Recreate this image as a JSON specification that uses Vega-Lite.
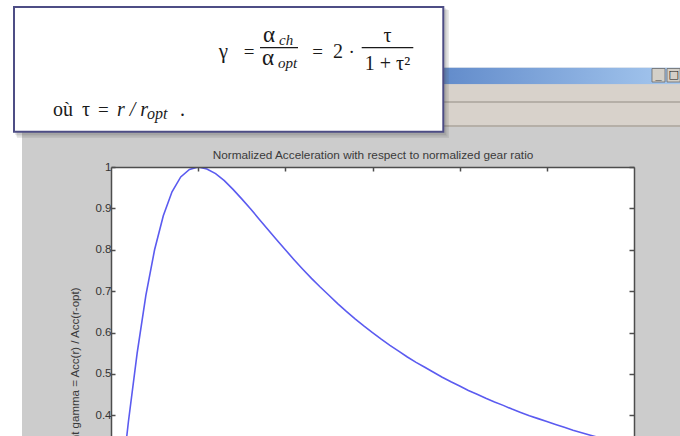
{
  "$schema": "https://vega.github.io/schema/vega-lite/v6.json",
  "width": 523,
  "height": 269,
  "autosize": {"type": "none"},
  "padding": {"left": 111, "top": 167, "right": 46, "bottom": 0},
  "background": "#cccccc",
  "config": {
    "view": {"stroke": null, "fill": "white"},
    "font": "Liberation Sans"
  },
  "resolve": {"axis": {"x": "independent", "y": "independent"}},
  "layer": [
    {
      "data": {"values": [{}]},
      "mark": {"type": "rect", "color": "white"},
      "encoding": {
        "x": {"datum": -1.3, "type": "quantitative", "axis": null, "scale": {"domain": [0, 6], "nice": false}},
        "x2": {"datum": 6.6},
        "y": {"datum": 1.42, "type": "quantitative", "axis": null, "scale": {"domain": [0.35, 1], "nice": false, "zero": false}},
        "y2": {"datum": 1.23994}
      }
    },
    {
      "data": {"values": [{}]},
      "mark": {"type": "rect", "color": "white"},
      "encoding": {
        "x": {"datum": -1.3, "type": "quantitative", "axis": null},
        "x2": {"datum": -1.021},
        "y": {"datum": 1.42, "type": "quantitative", "axis": null},
        "y2": {"datum": 0.3}
      }
    },
    {
      "data": {"values": [{}]},
      "mark": {
        "type": "rect",
        "color": {"gradient": "linear", "stops": [{"offset": 0, "color": "#0a246a"}, {"offset": 0.45, "color": "#3f6cb8"}, {"offset": 1, "color": "#a8caf0"}]}
      },
      "encoding": {
        "x": {"datum": -1.021, "type": "quantitative", "axis": null},
        "x2": {"datum": 6.6},
        "y": {"datum": 1.23994, "type": "quantitative", "axis": null},
        "y2": {"datum": 1.19983}
      }
    },
    {
      "data": {"values": [{}]},
      "mark": {"type": "rect", "color": "#d8d2cb"},
      "encoding": {
        "x": {"datum": -1.021, "type": "quantitative", "axis": null},
        "x2": {"datum": 6.6},
        "y": {"datum": 1.19983, "type": "quantitative", "axis": null},
        "y2": {"datum": 1.09665}
      }
    },
    {
      "data": {"values": [{}]},
      "mark": {"type": "rule", "color": "#aaa39b", "strokeWidth": 1.5},
      "encoding": {
        "x": {"datum": -1.021, "type": "quantitative", "axis": null},
        "x2": {"datum": 6.6},
        "y": {"datum": 1.15706, "type": "quantitative", "axis": null}
      }
    },
    {
      "data": {"values": [{}]},
      "mark": {"type": "rule", "color": "#aaa39b", "strokeWidth": 1.5},
      "encoding": {
        "x": {"datum": -1.021, "type": "quantitative", "axis": null},
        "x2": {"datum": 6.6},
        "y": {"datum": 1.09907, "type": "quantitative", "axis": null}
      }
    },
    {
      "data": {"values": [{}]},
      "mark": {"type": "rect", "color": "#d4d0c8", "stroke": "#6a6a6a", "strokeWidth": 0.8},
      "encoding": {
        "x": {"datum": 6.2065, "type": "quantitative", "axis": null},
        "x2": {"datum": 6.3557},
        "y": {"datum": 1.23801, "type": "quantitative", "axis": null},
        "y2": {"datum": 1.20539}
      }
    },
    {
      "data": {"values": [{}]},
      "mark": {"type": "rect", "color": "#d4d0c8", "stroke": "#6a6a6a", "strokeWidth": 0.8},
      "encoding": {
        "x": {"datum": 6.3786, "type": "quantitative", "axis": null},
        "x2": {"datum": 6.53},
        "y": {"datum": 1.23801, "type": "quantitative", "axis": null},
        "y2": {"datum": 1.20539}
      }
    },
    {
      "data": {"values": [{"glyph": "_"}]},
      "mark": {"type": "text", "fontSize": 11, "fontWeight": "bold", "color": "#111", "align": "center", "baseline": "alphabetic"},
      "encoding": {
        "text": {"field": "glyph"},
        "x": {"datum": 6.281, "type": "quantitative", "axis": null},
        "y": {"datum": 1.2115, "type": "quantitative", "axis": null}
      }
    },
    {
      "data": {"values": [{"glyph": "□"}]},
      "mark": {"type": "text", "fontSize": 11, "color": "#111", "align": "center", "baseline": "middle", "font": "DejaVu Sans"},
      "encoding": {
        "text": {"field": "glyph"},
        "x": {"datum": 6.455, "type": "quantitative", "axis": null},
        "y": {"datum": 1.2217, "type": "quantitative", "axis": null}
      }
    },
    {
      "data": {"values": [{}]},
      "mark": {"type": "rect", "color": "#555", "opacity": 0.12},
      "encoding": {
        "x": {"datum": -1.10134, "type": "quantitative", "axis": null},
        "x2": {"datum": 3.84321},
        "y": {"datum": 1.3842, "type": "quantitative", "axis": null},
        "y2": {"datum": 1.07732}
      }
    },
    {
      "data": {"values": [{}]},
      "mark": {"type": "rect", "color": "#555", "opacity": 0.12},
      "encoding": {
        "x": {"datum": -1.08987, "type": "quantitative", "axis": null},
        "x2": {"datum": 3.86042},
        "y": {"datum": 1.38178, "type": "quantitative", "axis": null},
        "y2": {"datum": 1.0737}
      }
    },
    {
      "data": {"values": [{}]},
      "mark": {"type": "rect", "color": "#555", "opacity": 0.12},
      "encoding": {
        "x": {"datum": -1.07839, "type": "quantitative", "axis": null},
        "x2": {"datum": 3.87763},
        "y": {"datum": 1.37937, "type": "quantitative", "axis": null},
        "y2": {"datum": 1.07007}
      }
    },
    {
      "data": {"values": [{}]},
      "mark": {"type": "rect", "color": "white", "stroke": "#4d4d85", "strokeWidth": 2},
      "encoding": {
        "x": {"datum": -1.1128, "type": "quantitative", "axis": null},
        "x2": {"datum": 3.8122},
        "y": {"datum": 1.38662, "type": "quantitative", "axis": null},
        "y2": {"datum": 1.0853}
      }
    },
    {
      "data": {"values": [{"t": "γ"}]},
      "mark": {"type": "text", "font": "Liberation Serif", "fontSize": 21, "color": "#1a1a1a", "align": "center", "baseline": "alphabetic"},
      "encoding": {"text": {"field": "t"}, "x": {"datum": 1.2906, "type": "quantitative", "axis": null}, "y": {"datum": 1.26338, "type": "quantitative", "axis": null}}
    },
    {
      "data": {"values": [{"t": "="}]},
      "mark": {"type": "text", "font": "Liberation Serif", "fontSize": 19, "color": "#1a1a1a", "align": "center", "baseline": "alphabetic"},
      "encoding": {"text": {"field": "t"}, "x": {"datum": 1.5832, "type": "quantitative", "axis": null}, "y": {"datum": 1.26338, "type": "quantitative", "axis": null}}
    },
    {
      "data": {"values": [{"t": "α"}]},
      "mark": {"type": "text", "font": "Liberation Serif", "fontSize": 23, "color": "#1a1a1a", "align": "left", "baseline": "alphabetic"},
      "encoding": {"text": {"field": "t"}, "x": {"datum": 1.7438, "type": "quantitative", "axis": null}, "y": {"datum": 1.30204, "type": "quantitative", "axis": null}}
    },
    {
      "data": {"values": [{"t": "ch"}]},
      "mark": {"type": "text", "font": "Liberation Serif", "fontSize": 15, "fontStyle": "italic", "color": "#1a1a1a", "align": "left", "baseline": "alphabetic"},
      "encoding": {"text": {"field": "t"}, "x": {"datum": 1.9273, "type": "quantitative", "axis": null}, "y": {"datum": 1.29479, "type": "quantitative", "axis": null}}
    },
    {
      "data": {"values": [{}]},
      "mark": {"type": "rule", "color": "#1a1a1a", "strokeWidth": 1.2},
      "encoding": {"x": {"datum": 1.7094, "type": "quantitative", "axis": null}, "x2": {"datum": 2.1453}, "y": {"datum": 1.28827, "type": "quantitative", "axis": null}}
    },
    {
      "data": {"values": [{"t": "α"}]},
      "mark": {"type": "text", "font": "Liberation Serif", "fontSize": 23, "color": "#1a1a1a", "align": "left", "baseline": "alphabetic"},
      "encoding": {"text": {"field": "t"}, "x": {"datum": 1.7323, "type": "quantitative", "axis": null}, "y": {"datum": 1.24647, "type": "quantitative", "axis": null}}
    },
    {
      "data": {"values": [{"t": "opt"}]},
      "mark": {"type": "text", "font": "Liberation Serif", "fontSize": 15, "fontStyle": "italic", "color": "#1a1a1a", "align": "left", "baseline": "alphabetic"},
      "encoding": {"text": {"field": "t"}, "x": {"datum": 1.9158, "type": "quantitative", "axis": null}, "y": {"datum": 1.23922, "type": "quantitative", "axis": null}}
    },
    {
      "data": {"values": [{"t": "="}]},
      "mark": {"type": "text", "font": "Liberation Serif", "fontSize": 19, "color": "#1a1a1a", "align": "center", "baseline": "alphabetic"},
      "encoding": {"text": {"field": "t"}, "x": {"datum": 2.369, "type": "quantitative", "axis": null}, "y": {"datum": 1.26338, "type": "quantitative", "axis": null}}
    },
    {
      "data": {"values": [{"t": "2"}]},
      "mark": {"type": "text", "font": "Liberation Serif", "fontSize": 20, "color": "#1a1a1a", "align": "center", "baseline": "alphabetic"},
      "encoding": {"text": {"field": "t"}, "x": {"datum": 2.6042, "type": "quantitative", "axis": null}, "y": {"datum": 1.26338, "type": "quantitative", "axis": null}}
    },
    {
      "data": {"values": [{"t": "·"}]},
      "mark": {"type": "text", "font": "Liberation Serif", "fontSize": 19, "color": "#1a1a1a", "align": "center", "baseline": "alphabetic"},
      "encoding": {"text": {"field": "t"}, "x": {"datum": 2.7614, "type": "quantitative", "axis": null}, "y": {"datum": 1.26338, "type": "quantitative", "axis": null}}
    },
    {
      "data": {"values": [{"t": "τ"}]},
      "mark": {"type": "text", "font": "Liberation Serif", "fontSize": 20, "color": "#1a1a1a", "align": "center", "baseline": "alphabetic"},
      "encoding": {"text": {"field": "t"}, "x": {"datum": 3.1721, "type": "quantitative", "axis": null}, "y": {"datum": 1.30204, "type": "quantitative", "axis": null}}
    },
    {
      "data": {"values": [{}]},
      "mark": {"type": "rule", "color": "#1a1a1a", "strokeWidth": 1.2},
      "encoding": {"x": {"datum": 2.8761, "type": "quantitative", "axis": null}, "x2": {"datum": 3.4681}, "y": {"datum": 1.28827, "type": "quantitative", "axis": null}}
    },
    {
      "data": {"values": [{"t": "1 + τ²"}]},
      "mark": {"type": "text", "font": "Liberation Serif", "fontSize": 20, "color": "#1a1a1a", "align": "center", "baseline": "alphabetic"},
      "encoding": {"text": {"field": "t"}, "x": {"datum": 3.1721, "type": "quantitative", "axis": null}, "y": {"datum": 1.23439, "type": "quantitative", "axis": null}}
    },
    {
      "data": {"values": [{"t": "où"}]},
      "mark": {"type": "text", "font": "Liberation Serif", "fontSize": 20, "color": "#1a1a1a", "align": "left", "baseline": "alphabetic"},
      "encoding": {"text": {"field": "t"}, "x": {"datum": -0.6654, "type": "quantitative", "axis": null}, "y": {"datum": 1.1232, "type": "quantitative", "axis": null}}
    },
    {
      "data": {"values": [{"t": "τ"}]},
      "mark": {"type": "text", "font": "Liberation Serif", "fontSize": 20, "color": "#1a1a1a", "align": "left", "baseline": "alphabetic"},
      "encoding": {"text": {"field": "t"}, "x": {"datum": -0.3327, "type": "quantitative", "axis": null}, "y": {"datum": 1.1232, "type": "quantitative", "axis": null}}
    },
    {
      "data": {"values": [{"t": "="}]},
      "mark": {"type": "text", "font": "Liberation Serif", "fontSize": 19, "color": "#1a1a1a", "align": "left", "baseline": "alphabetic"},
      "encoding": {"text": {"field": "t"}, "x": {"datum": -0.1491, "type": "quantitative", "axis": null}, "y": {"datum": 1.1232, "type": "quantitative", "axis": null}}
    },
    {
      "data": {"values": [{"t": "r / r"}]},
      "mark": {"type": "text", "font": "Liberation Serif", "fontSize": 20, "fontStyle": "italic", "color": "#1a1a1a", "align": "left", "baseline": "alphabetic"},
      "encoding": {"text": {"field": "t"}, "x": {"datum": 0.0688, "type": "quantitative", "axis": null}, "y": {"datum": 1.1232, "type": "quantitative", "axis": null}}
    },
    {
      "data": {"values": [{"t": "opt"}]},
      "mark": {"type": "text", "font": "Liberation Serif", "fontSize": 16, "fontStyle": "italic", "color": "#1a1a1a", "align": "left", "baseline": "alphabetic"},
      "encoding": {"text": {"field": "t"}, "x": {"datum": 0.413, "type": "quantitative", "axis": null}, "y": {"datum": 1.1159, "type": "quantitative", "axis": null}}
    },
    {
      "data": {"values": [{"t": "."}]},
      "mark": {"type": "text", "font": "Liberation Serif", "fontSize": 20, "color": "#1a1a1a", "align": "left", "baseline": "alphabetic"},
      "encoding": {"text": {"field": "t"}, "x": {"datum": 0.7916, "type": "quantitative", "axis": null}, "y": {"datum": 1.1232, "type": "quantitative", "axis": null}}
    },
    {
      "data": {
        "values": [
          {"tau": 0.0, "gamma": 0.0}, {"tau": 0.1, "gamma": 0.198}, {"tau": 0.2, "gamma": 0.385},
          {"tau": 0.3, "gamma": 0.55}, {"tau": 0.4, "gamma": 0.69}, {"tau": 0.5, "gamma": 0.8},
          {"tau": 0.6, "gamma": 0.882}, {"tau": 0.7, "gamma": 0.94}, {"tau": 0.8, "gamma": 0.976},
          {"tau": 0.9, "gamma": 0.994}, {"tau": 1.0, "gamma": 1.0}, {"tau": 1.1, "gamma": 0.995},
          {"tau": 1.2, "gamma": 0.984}, {"tau": 1.3, "gamma": 0.967}, {"tau": 1.4, "gamma": 0.946},
          {"tau": 1.5, "gamma": 0.923}, {"tau": 1.6, "gamma": 0.899}, {"tau": 1.7, "gamma": 0.874},
          {"tau": 1.8, "gamma": 0.849}, {"tau": 1.9, "gamma": 0.824}, {"tau": 2.0, "gamma": 0.8},
          {"tau": 2.1, "gamma": 0.776}, {"tau": 2.2, "gamma": 0.753}, {"tau": 2.3, "gamma": 0.731},
          {"tau": 2.4, "gamma": 0.71}, {"tau": 2.5, "gamma": 0.69}, {"tau": 2.6, "gamma": 0.67},
          {"tau": 2.7, "gamma": 0.651}, {"tau": 2.8, "gamma": 0.633}, {"tau": 2.9, "gamma": 0.616},
          {"tau": 3.0, "gamma": 0.6}, {"tau": 3.1, "gamma": 0.584}, {"tau": 3.2, "gamma": 0.569},
          {"tau": 3.3, "gamma": 0.555}, {"tau": 3.4, "gamma": 0.541}, {"tau": 3.5, "gamma": 0.528},
          {"tau": 3.6, "gamma": 0.516}, {"tau": 3.7, "gamma": 0.504}, {"tau": 3.8, "gamma": 0.492},
          {"tau": 3.9, "gamma": 0.481}, {"tau": 4.0, "gamma": 0.471}, {"tau": 4.1, "gamma": 0.46},
          {"tau": 4.2, "gamma": 0.451}, {"tau": 4.3, "gamma": 0.441}, {"tau": 4.4, "gamma": 0.432},
          {"tau": 4.5, "gamma": 0.424}, {"tau": 4.6, "gamma": 0.415}, {"tau": 4.7, "gamma": 0.407},
          {"tau": 4.8, "gamma": 0.399}, {"tau": 4.9, "gamma": 0.392}, {"tau": 5.0, "gamma": 0.385},
          {"tau": 5.1, "gamma": 0.378}, {"tau": 5.2, "gamma": 0.371}, {"tau": 5.3, "gamma": 0.364},
          {"tau": 5.4, "gamma": 0.358}, {"tau": 5.5, "gamma": 0.352}, {"tau": 5.6, "gamma": 0.346},
          {"tau": 5.7, "gamma": 0.34}, {"tau": 5.8, "gamma": 0.335}, {"tau": 5.9, "gamma": 0.33},
          {"tau": 6.0, "gamma": 0.324}
        ]
      },
      "mark": {"type": "line", "color": "#5b5bf0", "strokeWidth": 1.6, "clip": true},
      "encoding": {
        "x": {
          "field": "tau",
          "type": "quantitative",
          "axis": {
            "orient": "top",
            "values": [1, 2, 3, 4, 5],
            "labels": false,
            "grid": false,
            "tickSize": -4,
            "tickColor": "#4d4d4d",
            "tickWidth": 1.5,
            "domainColor": "#4d4d4d",
            "domainWidth": 1.5,
            "title": "Normalized Acceleration with respect to normalized gear ratio",
            "titleFont": "Liberation Sans",
            "titleFontSize": 11.8,
            "titleFontWeight": "normal",
            "titleColor": "#3a3a3a",
            "titleAlign": "center",
            "titleBaseline": "alphabetic",
            "titleX": 261.5,
            "titleY": -9,
            "zindex": 1
          }
        },
        "y": {
          "field": "gamma",
          "type": "quantitative",
          "axis": {
            "orient": "left",
            "values": [0.4, 0.5, 0.6, 0.7, 0.8, 0.9, 1.0],
            "format": ".1~f",
            "grid": false,
            "tickSize": -4,
            "tickColor": "#4d4d4d",
            "tickWidth": 1.5,
            "domainColor": "#4d4d4d",
            "domainWidth": 1.5,
            "labelFont": "Liberation Sans",
            "labelFontSize": 11.5,
            "labelColor": "#333333",
            "labelPadding": 4,
            "title": "Coefficient gamma = Acc(r) / Acc(r-opt)",
            "titleFont": "Liberation Sans",
            "titleFontSize": 11.5,
            "titleFontWeight": "normal",
            "titleColor": "#3a3a3a",
            "titleAngle": 270,
            "titleAlign": "right",
            "titleBaseline": "alphabetic",
            "titleX": -33,
            "titleY": 120,
            "zindex": 1
          }
        }
      }
    },
    {
      "data": {"values": [{"tau": 0, "gamma": 1}, {"tau": 6, "gamma": 0.35}]},
      "mark": {"type": "point", "opacity": 0},
      "encoding": {
        "x": {"field": "tau", "type": "quantitative", "axis": null},
        "y": {
          "field": "gamma",
          "type": "quantitative",
          "axis": {
            "orient": "right",
            "values": [0.4, 0.5, 0.6, 0.7, 0.8, 0.9, 1.0],
            "labels": false,
            "title": null,
            "grid": false,
            "tickSize": -5,
            "tickColor": "#4d4d4d",
            "tickWidth": 1.5,
            "domainColor": "#4d4d4d",
            "domainWidth": 1.5,
            "zindex": 1
          }
        }
      }
    }
  ]
}
